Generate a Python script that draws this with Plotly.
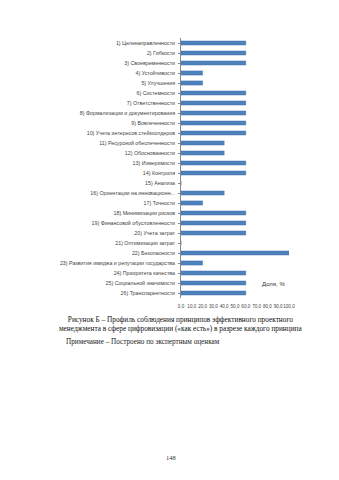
import plotly.graph_objects as go

categories = [
    "1) Целенаправленности",
    "2) Гибкости",
    "3) Своевременности",
    "4) Устойчивости",
    "5) Улучшения",
    "6) Системности",
    "7) Ответственности",
    "8) Формализации и документирования",
    "9) Вовлеченности",
    "10) Учета интересов стейкхолдеров",
    "11) Ресурсной обеспеченности",
    "12) Обоснованности",
    "13) Измеримости",
    "14) Контроля",
    "15) Анализа",
    "16) Ориентации на инновационн...",
    "17) Точности",
    "18) Минимизации рисков",
    "19) Финансовой обусловленности",
    "20) Учета затрат",
    "21) Оптимизации затрат",
    "22) Безопасности",
    "23) Развития имиджа и репутации государства",
    "24) Приоритета качества",
    "25) Социальной значимости",
    "26) Транспарентности",
]
values = [60, 60, 60, 20, 20, 60, 60, 60, 60, 60, 40, 40, 60, 60, 0, 40, 20,
          60, 60, 60, 0, 100, 20, 60, 60, 60]
tick_vals = [0, 10, 20, 30, 40, 50, 60, 70, 80, 90, 100]
tick_text = ["0,0", "10,0", "20,0", "30,0", "40,0", "50,0", "60,0", "70,0", "80,0", "90,0", "100,0"]
series_name = "Доля, %"
caption = ("Рисунок Б – Профиль соблюдения принципов эффективного проектного<br>"
           "менеджмента в сфере цифровизации («как есть») в разрезе каждого принципа")
note = "Примечание – Построено по экспертным оценкам"
page_no = "148"

fig = go.Figure(go.Bar(
    x=values, y=categories, orientation="h", name=series_name,
    marker=dict(color="#4F81BD", line=dict(color="#3C6DA8", width=0.4)),
    width=0.42,
))

fig.update_layout(
    width=339, height=480,
    margin=dict(l=181, r=50, t=38, b=182),
    paper_bgcolor="white", plot_bgcolor="white",
    showlegend=False,
    font=dict(family="Liberation Sans, Arial", color="#333333"),
    xaxis=dict(range=[0, 100], tickvals=tick_vals, ticktext=tick_text,
               tickangle=0,
               tickfont=dict(size=4.6, color="#444444"), showgrid=False,
               zeroline=False, showline=False, ticks="", ticklabelstandoff=4),
    yaxis=dict(autorange="reversed", tickfont=dict(size=5.3, color="#444444"),
               showline=True, linecolor="#888888", linewidth=0.8,
               ticks="outside", ticklen=2, tickcolor="#888888",
               showgrid=False, ticklabelstandoff=2),
    bargap=0.58,
)

fig.add_annotation(x=0.73, y=0.055, xref="paper", yref="paper",
                   text=series_name, showarrow=False, xanchor="left", yanchor="middle",
                   font=dict(size=6, family="Liberation Sans, Arial", color="#333333"))

fig.add_annotation(x=(180 - 181) / 108, y=(298 - 323.5) / 260, xref="paper", yref="paper",
                   text=caption, showarrow=False, xanchor="center", yanchor="middle",
                   align="center",
                   font=dict(size=7.3, family="Liberation Serif, Times New Roman", color="#111111"))

fig.add_annotation(x=(64 - 181) / 108, y=(298 - 342) / 260, xref="paper", yref="paper",
                   text=note, showarrow=False, xanchor="left", yanchor="middle",
                   font=dict(size=7.2, family="Liberation Serif, Times New Roman", color="#222222"))

fig.add_annotation(x=(171 - 181) / 108, y=(298 - 457) / 260, xref="paper", yref="paper",
                   text=page_no, showarrow=False, xanchor="center", yanchor="middle",
                   font=dict(size=6.5, family="Liberation Serif, Times New Roman", color="#333333"))

fig.write_html("out.html")
